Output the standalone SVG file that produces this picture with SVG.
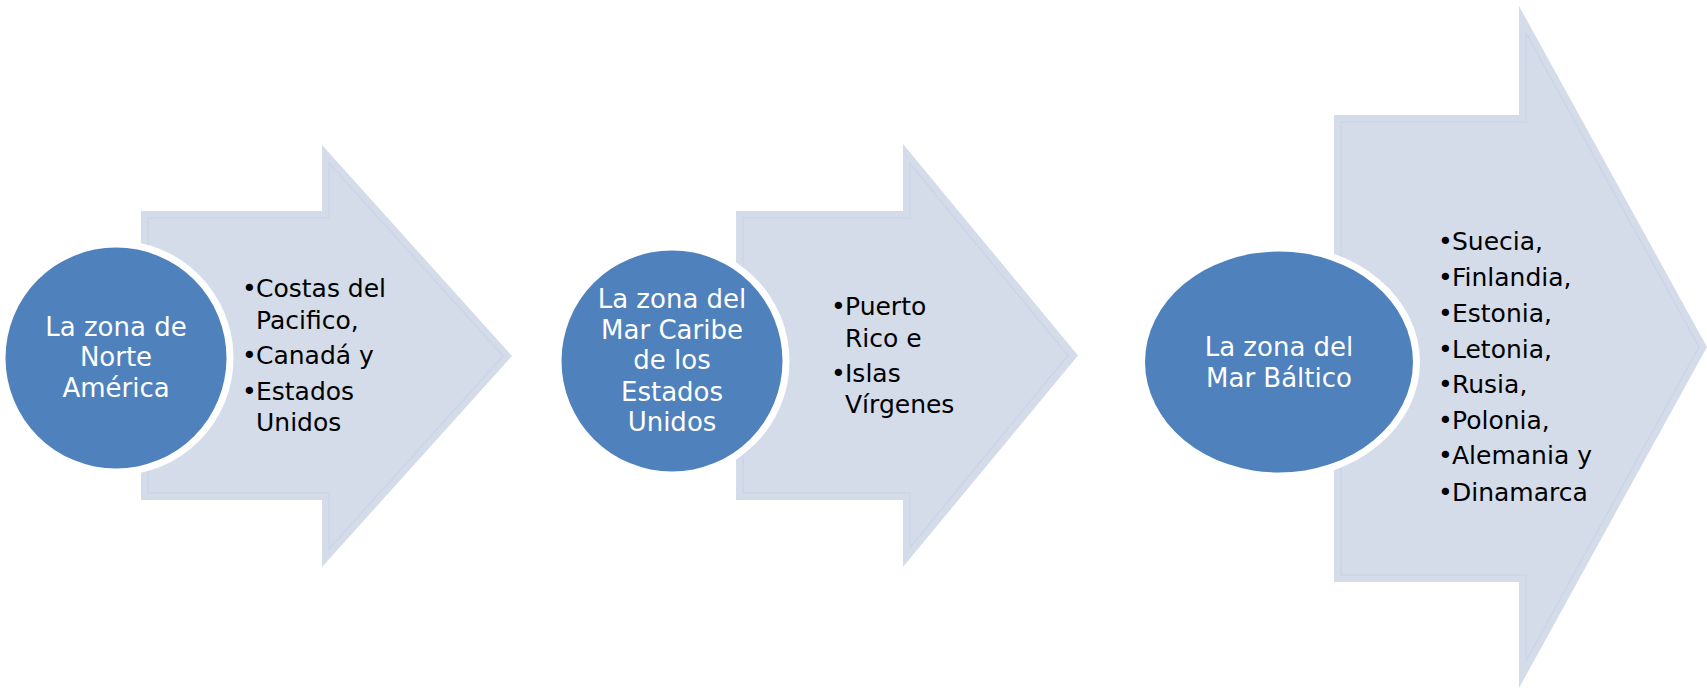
<svg xmlns="http://www.w3.org/2000/svg" width="1707" height="690" viewBox="0 0 1707 690">
  <style>
    .arrow { fill: #D4DCEA; stroke: none; }
    .inset { fill: none; stroke: #CCD5E7; stroke-width: 1.5; }
    .ring { fill: #FFFFFF; }
    .disc { fill: #4F81BD; }
    .ctext { font-family: "DejaVu Sans", Verdana, sans-serif; font-size: 26px; fill: #FFFFFF; text-anchor: middle; }
    .btext { font-family: "DejaVu Sans", Verdana, sans-serif; font-size: 25px; fill: #000000; }
  </style>
  <rect width="1707" height="690" fill="#FFFFFF"/>
  <g id="connectors"></g>

  <g id="node-norte-america">
    <polygon class="arrow" points="141,211 322,211 322,145 512,356 322,567 322,500 141,500"/>
    <polygon class="inset" points="148,218 329,218 329,163 503,356 329,549 329,493 148,493"/>
    <circle class="ring" cx="116" cy="358" r="117.5"/>
    <circle class="disc" cx="116" cy="358" r="110.5"/>
    <text class="ctext" x="116" y="336">La zona de</text>
    <text class="ctext" x="116" y="366">Norte</text>
    <text class="ctext" x="116" y="397">América</text>
    <text class="btext" x="242" y="297">•<tspan x="256">Costas del</tspan></text>
    <text class="btext" x="256" y="329">Pacifico,</text>
    <text class="btext" x="242" y="364">•<tspan x="256">Canadá y</tspan></text>
    <text class="btext" x="242" y="400">•<tspan x="256">Estados</tspan></text>
    <text class="btext" x="256" y="431">Unidos</text>
  </g>

  <g id="node-mar-caribe">
    <polygon class="arrow" points="736,211 903,211 903,144 1078,355.5 903,567 903,500 736,500"/>
    <polygon class="inset" points="743,218 910,218 910,163.5 1068,355.5 910,547.5 910,493 743,493"/>
    <circle class="ring" cx="672" cy="361" r="117.5"/>
    <circle class="disc" cx="672" cy="361" r="110.5"/>
    <text class="ctext" x="672" y="308">La zona del</text>
    <text class="ctext" x="672" y="339">Mar Caribe</text>
    <text class="ctext" x="672" y="369">de los</text>
    <text class="ctext" x="672" y="401">Estados</text>
    <text class="ctext" x="672" y="431">Unidos</text>
    <text class="btext" x="831" y="315">•<tspan x="845">Puerto</tspan></text>
    <text class="btext" x="845" y="347">Rico e</text>
    <text class="btext" x="831" y="382">•<tspan x="845">Islas</tspan></text>
    <text class="btext" x="845" y="413">Vírgenes</text>
  </g>

  <g id="node-mar-baltico">
    <polygon class="arrow" points="1334,115 1519,115 1519,6 1707,347 1519,688 1519,582 1334,582"/>
    <polygon class="inset" points="1341,122 1526,122 1526,33 1699,347 1526,661 1526,575 1341,575"/>
    <ellipse class="ring" cx="1279" cy="362" rx="141" ry="117.5"/>
    <ellipse class="disc" cx="1279" cy="362" rx="134" ry="110.5"/>
    <text class="ctext" x="1279" y="356">La zona del</text>
    <text class="ctext" x="1279" y="387">Mar Báltico</text>
    <text class="btext" x="1438" y="250">•<tspan x="1452">Suecia,</tspan></text>
    <text class="btext" x="1438" y="286">•<tspan x="1452">Finlandia,</tspan></text>
    <text class="btext" x="1438" y="322">•<tspan x="1452">Estonia,</tspan></text>
    <text class="btext" x="1438" y="358">•<tspan x="1452">Letonia,</tspan></text>
    <text class="btext" x="1438" y="393">•<tspan x="1452">Rusia,</tspan></text>
    <text class="btext" x="1438" y="429">•<tspan x="1452">Polonia,</tspan></text>
    <text class="btext" x="1438" y="464">•<tspan x="1452">Alemania y</tspan></text>
    <text class="btext" x="1438" y="501">•<tspan x="1452">Dinamarca</tspan></text>
  </g>
</svg>
